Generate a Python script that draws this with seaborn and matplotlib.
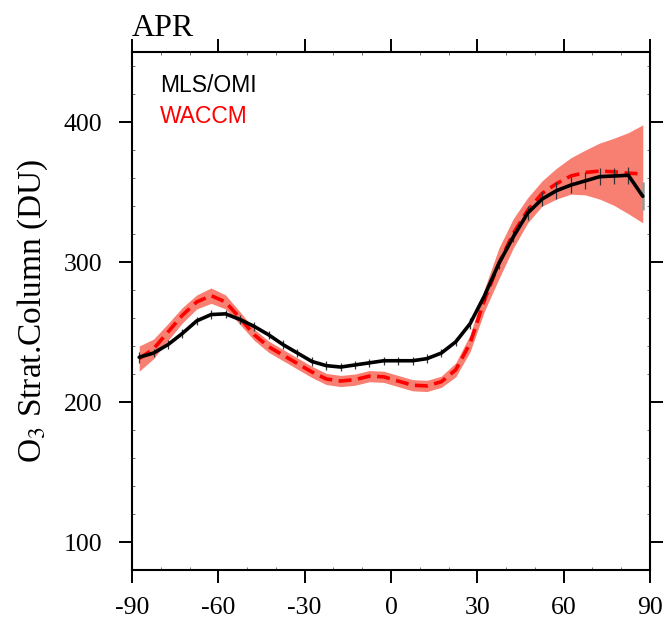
import numpy as np
import pandas as pd
import seaborn as sns
import matplotlib.pyplot as plt
from matplotlib.ticker import MultipleLocator

# latitude centres (5 deg bins)
lat = np.arange(-87.5, 90, 5.0)

# MLS/OMI zonal mean stratospheric column (DU)
mls_omi = [232, 235, 241, 249, 258, 262.5, 263, 259, 254, 248, 241, 235,
           229, 226, 225, 226.5, 228, 229.5, 229.5, 229.5, 231, 235, 243, 256,
           276, 299, 318, 335, 345, 351, 355, 358, 361, 361.5, 362, 347]
mls_err = [4, 3, 3, 3, 3, 3, 3, 3, 3, 3, 3, 3,
           3, 3, 3, 3, 3, 3, 3, 3, 3, 3, 3, 4,
           4, 4, 4, 5, 5, 6, 6, 6, 6, 6, 6, 10]

# WACCM mean and spread (DU)
waccm = [231, 238, 250, 262, 271.5, 276, 271.5, 260, 248, 239.5, 233.5, 227.5,
         221.5, 216.5, 215, 216, 218.5, 218, 215, 212, 211.5, 214.5, 223, 242,
         273, 299, 320.5, 337, 349, 356, 361.5, 364, 365, 364.5, 363.5, 363]
waccm_sd = [9, 7, 6, 5.5, 5, 5.5, 5, 4.5, 4, 4, 4, 4,
            4, 4, 4, 4, 4, 4, 4, 4, 4, 4, 5, 6,
            8, 11, 10.5, 9, 9, 11, 13, 16, 20, 24, 29, 35]

df = pd.DataFrame({"lat": lat, "mls": mls_omi, "err": mls_err,
                   "waccm": waccm, "sd": waccm_sd})

sns.set_style("ticks", {"text.color": "black", "axes.labelcolor": "black",
                        "xtick.color": "black", "ytick.color": "black",
                        "axes.edgecolor": "black"})
plt.rcParams["font.family"] = ["Liberation Serif", "DejaVu Serif"]
plt.rcParams["mathtext.fontset"] = "stix"
plt.rcParams["axes.unicode_minus"] = False

fig = plt.figure(figsize=(6.68, 6.27), dpi=100)
ax = fig.add_axes([0.1976, 0.0909, 0.7754, 0.826])

ax.fill_between(df["lat"], df["waccm"] - df["sd"], df["waccm"] + df["sd"],
                color="#f88072", lw=0, zorder=1)
sns.lineplot(data=df, x="lat", y="waccm", ax=ax, color="red", lw=2.6,
             zorder=2).lines[-1].set_dashes((3.6, 1.8))
ax.errorbar(df["lat"][:-1], df["mls"][:-1], yerr=df["err"][:-1], fmt="none",
            ecolor="#333333", elinewidth=0.9, capsize=0, zorder=3)
ax.errorbar(df["lat"][-1:], df["mls"][-1:], yerr=df["err"][-1:], fmt="none",
            ecolor="#999999", elinewidth=1.8, capsize=0, zorder=3)
sns.lineplot(data=df, x="lat", y="mls", ax=ax, color="black", lw=2.6, zorder=4)

ax.set_xlim(-90, 90)
ax.set_ylim(80, 450)
ax.xaxis.set_major_locator(MultipleLocator(30))
ax.xaxis.set_minor_locator(MultipleLocator(10))
ax.yaxis.set_major_locator(MultipleLocator(100))
ax.yaxis.set_minor_locator(MultipleLocator(20))
ax.tick_params(which="major", direction="out", length=9.5, width=1.4,
               top=True, right=True, labelsize=18.5)
ax.tick_params(axis="y", which="major", pad=12)
ax.tick_params(axis="x", which="major", pad=10)
ax.tick_params(which="minor", direction="in", length=2.5, width=0.6,
               top=True, right=True, color="#555555")
for s in ax.spines.values():
    s.set_linewidth(1.5)
    s.set_visible(True)

ax.set_xlabel("")
ax.set_ylabel(r"O$_3$ Strat.Column (DU)", fontsize=24, labelpad=10)

ax.text(0, 1.031, "APR", transform=ax.transAxes, ha="left", va="baseline",
        fontsize=23)
ax.text(0.054, 0.923, "MLS/OMI", transform=ax.transAxes, ha="left",
        va="baseline", fontsize=16.5, color="black", family="Liberation Sans")
ax.text(0.054, 0.863, "WACCM", transform=ax.transAxes, ha="left",
        va="baseline", fontsize=16.5, color="red", family="Liberation Sans")

fig.savefig("out.png", dpi=100)
